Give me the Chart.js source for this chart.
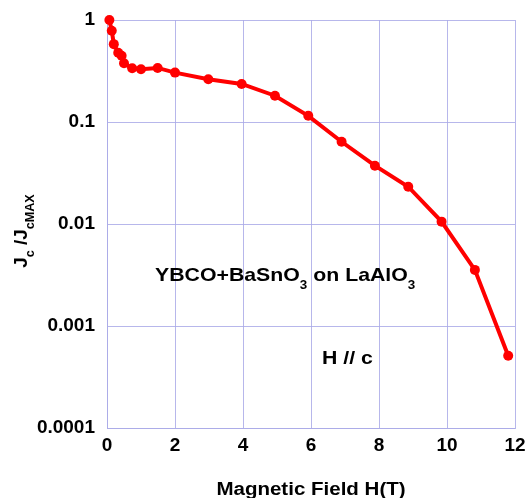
<!DOCTYPE html>
<html>
<head>
<meta charset="utf-8">
<script src="https://cdn.jsdelivr.net/npm/chart.js@4/dist/chart.umd.min.js"></script>
<style>
html,body{margin:0;padding:0;background:#fff;}
#wrap{width:526px;height:498px;position:relative;}
</style>
</head>
<body>
<div id="wrap"><canvas id="c" width="526" height="498"></canvas></div>
<script>
// Data
const fieldT = [0.07, 0.14, 0.2, 0.33, 0.43, 0.5, 0.74, 1.0, 1.49, 2.0, 2.98, 3.96, 4.94, 5.92, 6.9, 7.88, 8.86, 9.84, 10.82, 11.8];
const jcRatio = [1, 0.785, 0.58, 0.478, 0.447, 0.376, 0.336, 0.329, 0.339, 0.305, 0.263, 0.236, 0.181, 0.115, 0.064, 0.0373, 0.0232, 0.01055, 0.00355, 0.00051];
const yTickValues = [0.0001, 0.001, 0.01, 0.1, 1];
const yTickLabels = ['0.0001', '0.001', '0.01', '0.1', '1'];
const xTitle = 'Magnetic Field H(T)';
const yTitleParts = [['J', false], ['c', true], [' /J', false], ['cMAX', true]];
const note1Parts = [['YBCO+BaSnO', false], ['3', true], [' on LaAlO', false], ['3', true]];
const note2Parts = [['H // c', false]];

const FONT = '"Liberation Sans", Arial, sans-serif';
const gridColor = 'rgba(170,170,232,0.85)';

function drawParts(ctx, parts, x, y, size, subSize, subDrop, stretch) {
  ctx.save();
  ctx.translate(x, y);
  ctx.scale(stretch, 1);
  let cx = 0;
  for (const [t, sub] of parts) {
    ctx.font = 'bold ' + (sub ? subSize : size) + 'px ' + FONT;
    ctx.fillText(t, cx, sub ? subDrop : 0);
    cx += ctx.measureText(t).width;
  }
  ctx.restore();
}
function partsWidth(ctx, parts, size, subSize, stretch) {
  let w = 0;
  for (const [t, sub] of parts) {
    ctx.font = 'bold ' + (sub ? subSize : size) + 'px ' + FONT;
    w += ctx.measureText(t).width;
  }
  return w * stretch;
}

const textPlugin = {
  id: 'texts',
  afterDraw(chart) {
    const ctx = chart.ctx;
    const a = chart.chartArea;
    ctx.save();
    ctx.fillStyle = '#000';
    ctx.textBaseline = 'alphabetic';
    ctx.textAlign = 'left';
    // x title
    const xw = partsWidth(ctx, [[xTitle, false]], 18, 12, 1.14);
    drawParts(ctx, [[xTitle, false]], 311 - xw / 2, 495, 18, 12, 0, 1.14);
    // y title rotated
    ctx.save();
    ctx.translate(27, 231);
    ctx.rotate(-Math.PI / 2);
    const yw = partsWidth(ctx, yTitleParts, 18, 12, 1.05);
    drawParts(ctx, yTitleParts, -yw / 2, 0, 18, 12, 7, 1.05);
    ctx.restore();
    // annotations
    drawParts(ctx, note1Parts, a.left + 48, 281, 19, 12, 8, 1.12);
    drawParts(ctx, note2Parts, a.left + 215, 364, 19, 12, 8, 1.12);
    ctx.restore();
  }
};

new Chart(document.getElementById('c'), {
  type: 'line',
  data: {
    datasets: [{
      data: fieldT.map((x, i) => ({ x: x, y: jcRatio[i] })),
      borderColor: '#ff0000',
      backgroundColor: '#ff0000',
      borderWidth: 4,
      pointRadius: 5,
      pointBorderWidth: 0,
      pointBackgroundColor: '#ff0000',
      tension: 0,
      clip: false
    }]
  },
  options: {
    responsive: false,
    animation: false,
    devicePixelRatio: 1,
    layout: { padding: { left: 0, top: 20, right: 11, bottom: 0 } },
    plugins: { legend: { display: false }, tooltip: { enabled: false } },
    scales: {
      x: {
        type: 'linear',
        min: 0, max: 12,
        ticks: { stepSize: 2, color: '#000', padding: 6, maxRotation: 0, font: { family: FONT, size: 19, weight: 'bold' } },
        grid: { color: gridColor, lineWidth: 1, drawTicks: false },
        border: { color: gridColor, width: 1 },
        afterFit(s) { s.height = 70; s.paddingLeft = 0; s.paddingRight = 0; }
      },
      y: {
        type: 'logarithmic',
        min: 0.0001, max: 1,
        afterBuildTicks(s) { s.ticks = yTickValues.map(v => ({ value: v })); },
        ticks: {
          color: '#000', padding: 12,
          font: { family: FONT, size: 19, weight: 'bold' },
          callback(v) { const i = yTickValues.indexOf(v); return i >= 0 ? yTickLabels[i] : ''; }
        },
        grid: { color: gridColor, lineWidth: 1, drawTicks: false },
        border: { color: gridColor, width: 1 },
        afterFit(s) { s.width = 107; s.paddingTop = 0; s.paddingBottom = 0; }
      }
    }
  },
  plugins: [textPlugin]
});
</script>
</body>
</html>
